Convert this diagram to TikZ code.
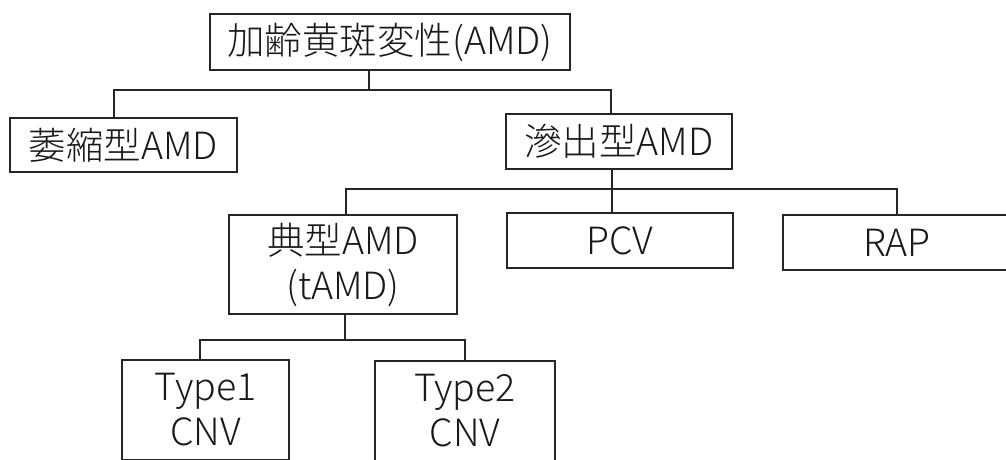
\documentclass[tikz,border=0pt]{standalone}
\usepackage{fontspec}
\setmainfont{Noto Sans CJK JP Light}
\begin{document}
\begin{tikzpicture}[x=1pt,y=-1pt,
  box/.style={draw=black!85,line width=1.4pt,inner sep=0pt,align=center,
    font=\fontsize{37.5}{45}\selectfont,text=black!90},
  link/.style={draw=black!85,line width=1.4pt}]
\useasboundingbox (0,0) rectangle (1006,459);
\clip (0,0) rectangle (1006,459);
\node[box,minimum width=360pt,minimum height=56pt] (top) at (390,42) {加齢黄斑変性(AMD)};
\node[box,minimum width=227pt,minimum height=54pt] (atro) at (123.5,145) {萎縮型AMD};
\node[box,minimum width=226pt,minimum height=55pt] (exu) at (619,141.5) {滲出型AMD};
\node[box,minimum width=228pt,minimum height=99pt] (tamd) at (343,264.5) {典型AMD\\(tAMD)};
\node[box,minimum width=226pt,minimum height=55pt] (pcv) at (620,240.5) {PCV};
\node[box,minimum width=228pt,minimum height=55pt] (rap) at (897,242.5) {RAP};
\node[box,minimum width=167pt,minimum height=100pt] (type1) at (205.5,410) {Type1\\CNV};
\node[box,minimum width=180pt,minimum height=100pt] (type2) at (465,411) {Type2\\CNV};
\coordinate (j1) at (369,90);
\coordinate (j2) at (612,189);
\coordinate (j3) at (345,340);
\draw[link] (top.south -| j1) -- (j1);
\draw[link] (j1) -| ([xshift=-9.5pt]atro.north);
\draw[link] (j1) -| ([xshift=-8pt]exu.north);
\draw[link] (exu.south -| j2) -- (pcv.north -| j2);
\draw[link] (j2) -| ([xshift=3pt]tamd.north);
\draw[link] (j2) -| (rap.north);
\draw[link] (tamd.south -| j3) -- (j3);
\draw[link] (j3) -| ([xshift=-5.5pt]type1.north);
\draw[link] (j3) -| (type2.north);
\end{tikzpicture}
\end{document}
